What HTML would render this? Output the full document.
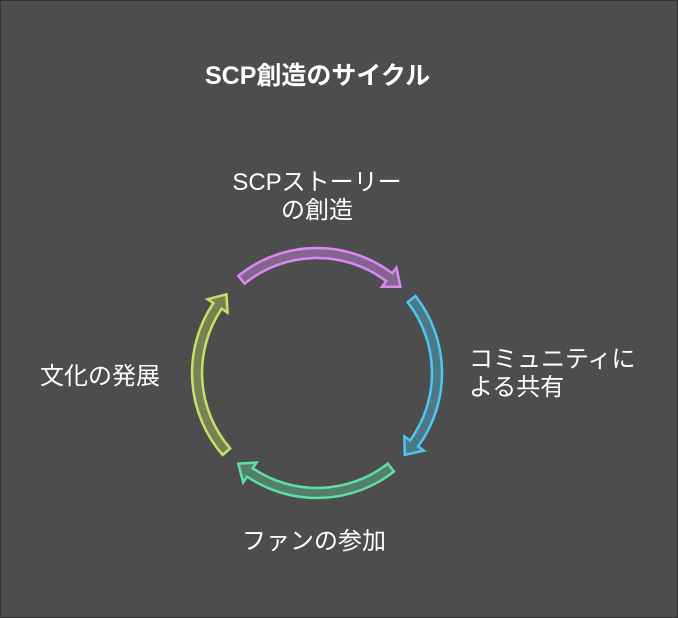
<!DOCTYPE html>
<html><head><meta charset="utf-8"><style>
html,body{margin:0;padding:0;background:#4d4d4d;}
#c{position:relative;width:676px;height:616px;border:1px solid #333;background:#4d4d4d;overflow:hidden;font-family:"Liberation Sans","Noto Sans CJK JP",sans-serif;color:#fff;}
.t{position:absolute;white-space:nowrap;font-size:24px;line-height:28px;}
</style></head><body><div id="c">
<div class="t" style="left:204px;top:60px;font-weight:bold;font-size:25px;line-height:30px;">SCP創造のサイクル</div>
<div class="t" style="left:206px;top:168px;width:220px;text-align:center;">SCPストーリー<br>の創造</div>
<div class="t" style="left:468px;top:345px;">コミュニティに<br>よる共有</div>
<div class="t" style="left:241px;top:527px;">ファンの参加</div>
<div class="t" style="left:39px;top:362px;">文化の発展</div>
<svg id="s" width="676" height="616" style="position:absolute;left:0;top:0"></svg>
</div>
<script>
var cx=316,cy=372;
function P(a,r){a=a*Math.PI/180;return (cx+r*Math.cos(a)).toFixed(1)+","+(cy+r*Math.sin(a)).toFixed(1);}
function arrow(a0,a1,stroke,fill){
 var h=a1>a0?-7:7, ab=a1+h, sw=a1>a0?1:0, sw2=1-sw;
 var d="M"+P(a0,125)+" A125,125 0 0 "+sw+" "+P(ab,125)+" L"+P(ab,132)+" L"+P(a1,120)+" L"+P(ab,108)+" L"+P(ab,115)+" A115,115 0 0 "+sw2+" "+P(a0,115)+" Z";
 return '<path d="'+d+'" fill="'+fill+'" stroke="'+stroke+'" stroke-width="2.5" stroke-linejoin="miter"/>';
}
document.getElementById('s').innerHTML=
 arrow(-129,-46,"#d98af2","rgba(217,138,242,0.4)")+
 arrow(-38,43,"#4cc8f2","rgba(76,200,242,0.35)")+
 arrow(52,131,"#5ee0a2","rgba(94,224,162,0.35)")+
 arrow(139,221,"#c6e264","rgba(198,226,100,0.35)");
</script>
</body></html>
